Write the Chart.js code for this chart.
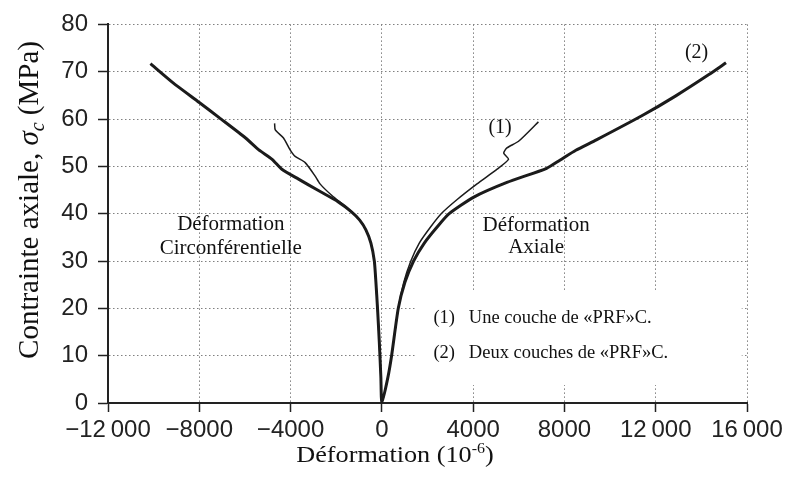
<!DOCTYPE html>
<html>
<head>
<meta charset="utf-8">
<script src="https://cdn.jsdelivr.net/npm/chart.js@4.4.1/dist/chart.umd.min.js"></script>
<style>
  html, body { margin: 0; padding: 0; background: #fff; }
  #wrap { width: 788px; height: 477px; }
</style>
</head>
<body>
<div id="wrap"><canvas id="chart" width="788" height="477"></canvas></div>
<script>
// strain (10^-6) and axial stress (MPa).
// each curve runs from its circumferential end, through the origin, to its axial end
const strain1 = [-4700, -4670, -4310, -4020, -3800, -3360, -2930, -2710, -2200, -1480, -980, -700, -480, -330, -260, -190, -113, -43, 0,
                 260, 430, 720, 960, 1270, 1640, 2150, 2600, 3300, 4170, 5050, 5550, 5340, 5480, 5990, 6860];
const stress1 = [59.1, 57.7, 56.0, 53.5, 52.1, 50.8, 48.0, 46.3, 43.9, 41.1, 38.7, 36.6, 33.8, 30.0, 25.5, 20.0, 13.0, 5.4, 0,
                 5.3, 10.1, 20.0, 25.5, 30.0, 33.8, 37.3, 40.0, 43.0, 46.3, 49.4, 51.5, 52.8, 53.9, 55.3, 59.4];

const strain2 = [-10140, -9160, -8000, -7130, -5970, -5390, -4810, -4380, -3650, -2780, -1910, -1330, -980, -700, -480, -330, -260, -190, -113, -43, 0,
                 260, 430, 720, 1010, 1390, 1860, 2440, 2950, 4030, 5480, 7220, 7800, 8500, 9400, 11430, 12880, 14330, 15080];
const stress2 = [71.7, 67.7, 63.5, 60.3, 56.0, 53.5, 51.5, 49.4, 47.3, 44.9, 42.5, 40.4, 38.7, 36.6, 33.8, 30.0, 25.5, 20.0, 13.0, 5.4, 0,
                 5.3, 10.1, 20.0, 25.5, 30.0, 33.8, 37.3, 40.0, 43.5, 46.6, 49.6, 51.3, 53.4, 55.6, 60.8, 64.9, 69.4, 71.9];

const xTicks = [-12000, -8000, -4000, 0, 4000, 8000, 12000, 16000];
const yTicks = [0, 10, 20, 30, 40, 50, 60, 70, 80];

const regionLabels = ['Déformation', 'Circonférentielle', 'Déformation', 'Axiale'];
const regionAt = [[-6620, 36.6], [-6620, 31.4], [6760, 36.4], [6760, 31.6]];
const curveTags = ['(1)', '(2)'];
const curveTagAt = [[5180, 57.1], [13790, 72.9]];
const keyText = ['Une couche de «PRF»C.', 'Deux couches de «PRF»C.'];

const SERIF = "'Liberation Serif', 'Times New Roman', serif";
const SANS = "'Liberation Sans', Arial, sans-serif";

function toPoints(xs, ys) {
    return xs.map((v, i) => ({x: v, y: ys[i]}));
}

function fmtStrain(v) {
    let s = String(Math.abs(v));
    if (Math.abs(v) >= 10000) { s = s.replace(/(\d+)(\d{3})$/, '$1\u2009$2'); }
    return (v < 0 ? '\u2212' : '') + s;
}

// draws a row of text pieces (for sub/superscripts) centred on cx
function drawRuns(ctx, runs, cx, baseline) {
    let total = 0;
    for (let r of runs) { ctx.font = r.f; total += ctx.measureText(r.t).width; }
    let pos = cx - total / 2;
    for (let r of runs) {
        ctx.font = r.f;
        ctx.fillText(r.t, pos, baseline + (r.dy || 0));
        pos += ctx.measureText(r.t).width;
    }
}

const textLayer = {
    id: 'textLayer',
    beforeDatasetsDraw(chart) {
        const {ctx, scales: {x, y}} = chart;
        // white panel for the key, hides the grid like in the figure
        ctx.save();
        ctx.fillStyle = '#fff';
        let l = x.getPixelForValue(1450), r = x.getPixelForValue(15770);
        let t = y.getPixelForValue(23.5), b = y.getPixelForValue(3.8);
        ctx.fillRect(l, t, r - l, b - t);
        ctx.restore();
    },
    afterDatasetsDraw(chart) {
        const {ctx, scales: {x, y}} = chart;
        ctx.save();
        ctx.fillStyle = '#111';
        ctx.textBaseline = 'alphabetic';

        ctx.textAlign = 'center';
        ctx.font = '21px ' + SERIF;
        regionLabels.forEach((s, i) => {
            ctx.fillText(s, x.getPixelForValue(regionAt[i][0]), y.getPixelForValue(regionAt[i][1]));
        });
        ctx.font = '20px ' + SERIF;
        curveTags.forEach((s, i) => {
            ctx.fillText(s, x.getPixelForValue(curveTagAt[i][0]), y.getPixelForValue(curveTagAt[i][1]));
        });

        // key
        ctx.textAlign = 'left';
        ctx.font = '18.5px ' + SERIF;
        let keyY = [16.9, 9.6];
        keyText.forEach((s, i) => {
            let by = y.getPixelForValue(keyY[i]);
            ctx.fillText(curveTags[i], x.getPixelForValue(2260), by);
            ctx.fillText(s, x.getPixelForValue(3810), by);
        });
        ctx.restore();
    },
    afterDraw(chart) {
        const {ctx} = chart;
        ctx.save();
        ctx.fillStyle = '#111';
        ctx.textAlign = 'left';
        ctx.textBaseline = 'alphabetic';
        // x title (the scan is a bit wider than the font)
        ctx.save();
        ctx.translate(395, 462);
        ctx.scale(1.14, 1);
        drawRuns(ctx, [
            {t: 'Déformation (10', f: '23px ' + SERIF},
            {t: '-6', f: '14px ' + SERIF, dy: -9},
            {t: ')', f: '23px ' + SERIF}
        ], 0, 0);
        ctx.restore();
        // y title, rotated
        ctx.translate(38, 200);
        ctx.rotate(-Math.PI / 2);
        drawRuns(ctx, [
            {t: 'Contrainte axiale, ', f: '29px ' + SERIF},
            {t: 'σ', f: 'italic 29px ' + SERIF},
            {t: 'c', f: 'italic 20px ' + SERIF, dy: 6},
            {t: ' (MPa)', f: '29px ' + SERIF}
        ], 0, 0);
        ctx.restore();
    }
};

function lineSet(label, xs, ys, width) {
    return {label: label,
            data: toPoints(xs, ys),
            showLine: true,
            borderColor: '#1b1b1b',
            borderWidth: width,
            pointRadius: 0,
            tension: 0.2,
            fill: false};
}

const gridStyle = {color: '#808080', lineWidth: 1, tickColor: '#222', tickWidth: 1.5, tickBorderDash: []};
const borderStyle = {color: '#222', width: 2, dash: [1.5, 2.5]};

new Chart(document.getElementById('chart').getContext('2d'), {
    type: 'scatter',
    data: {
        datasets: [lineSet('(1)', strain1, stress1, 1.5),
                   lineSet('(2)', strain2, stress2, 3)]
    },
    options: {
        responsive: false,
        devicePixelRatio: 1,
        animation: false,
        layout: { padding: {left: 0, right: 41, top: 17, bottom: 0} },
        plugins: { legend: {display: false}, tooltip: {enabled: false} },
        scales: {
            x: {
                type: 'linear', min: -12000, max: 16000,
                afterBuildTicks: s => { s.ticks = xTicks.map(v => ({value: v})); },
                afterFit: s => { s.height = 74; },
                grid: Object.assign({tickLength: 9}, gridStyle),
                border: borderStyle,
                ticks: { font: {family: SANS, size: 24}, color: '#222', padding: 4,
                         maxRotation: 0, autoSkip: false, callback: fmtStrain }
            },
            y: {
                type: 'linear', min: 0, max: 80,
                afterBuildTicks: s => { s.ticks = yTicks.map(v => ({value: v})); },
                afterFit: s => { s.width = 108; },
                grid: Object.assign({tickLength: 10}, gridStyle),
                border: borderStyle,
                ticks: { font: {family: SANS, size: 24}, color: '#222', padding: 10 }
            }
        }
    },
    plugins: [textLayer]
});
</script>
</body>
</html>
